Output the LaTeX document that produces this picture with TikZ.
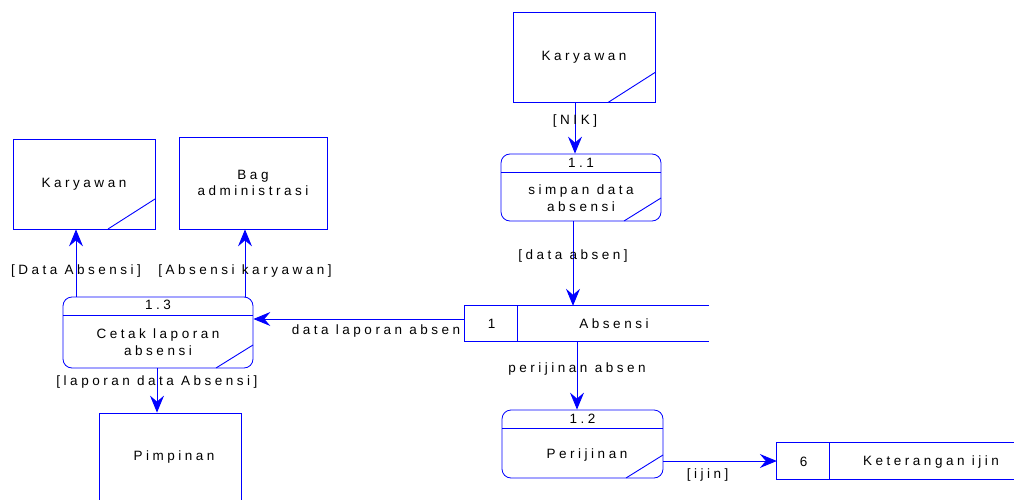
\documentclass[tikz,border=0pt]{standalone}
\usepackage{fontspec}
\setmainfont{Liberation Sans}[LetterSpace=26]
\usetikzlibrary{arrows.meta}

\begin{document}
\begin{tikzpicture}[x=1pt,y=-1pt]

\tikzstyle{every node}=[font=\fontsize{13.5}{16.5}\selectfont, text=black, align=center]
\tikzstyle{entity}=[rectangle, draw=blue, line width=0.8pt, minimum width=142pt, minimum height=90pt, inner sep=0pt]
\tikzstyle{corner}=[path picture={\draw[blue, line width=0.9pt] ([xshift=-47pt]path picture bounding box.south east) -- ([yshift=30pt]path picture bounding box.south east);}]
\tikzstyle{process}=[rectangle, draw=blue, line width=0.8pt, rounded corners=9pt, minimum width=160pt, minimum height=67pt, inner sep=0pt,
  path picture={\draw[blue, line width=0.8pt] ([yshift=-18pt]path picture bounding box.north west) -- ([yshift=-18pt]path picture bounding box.north east);
                \draw[blue, line width=0.9pt] ([xshift=-37pt]path picture bounding box.south east) -- ([yshift=23pt]path picture bounding box.south east);}]
\tikzstyle{store}=[rectangle, minimum height=35pt, inner sep=0pt]
\tikzstyle{storeline}=[draw=blue, line width=0.8pt]

\tikzstyle{flow}=[-{Stealth[length=17pt,width=14pt,inset=6pt]}, draw=blue, line width=0.9pt]

\clip (0,0) rectangle (1014,500);

% external entities
\node[entity, corner] (kar2) at (584,57.5)  {Karyawan};
\node[entity, corner] (kar1) at (84,184)  {Karyawan};
\node[entity, minimum width=148pt, minimum height=92pt] (bag) at (253,183)  {Bag\\administrasi};
\node[entity] (pim) at (170,458)  {};
\node[] (pimtext) at (174,457)  {Pimpinan};

% processes
\node[process] (p11) at (581,187.5)  {};
\node[] (p11no) at (581,163)  {1.1};
\node[] (p11text) at (581,198)  {simpan data\\absensi};

\node[process, minimum width=190pt, minimum height=71pt] (p13) at (158,332.5)  {};
\node[] (p13no) at (158,305)  {1.3};
\node[] (p13text) at (158,342)  {Cetak laporan\\absensi};

\node[process, minimum width=161pt, minimum height=68pt] (p12) at (582.5,444)  {};
\node[] (p12no) at (582.5,419)  {1.2};
\node[] (p12text) at (587,455)  {Perijinan};

% data stores
\node[store, minimum width=244pt] (s1) at (587,323.5)  {};
\draw[storeline] (s1.north east) -- (s1.north west) -- (s1.south west) -- (s1.south east);
\draw[storeline] ([xshift=53pt]s1.north west) -- ([xshift=53pt]s1.south west);
\node[] (s1id) at (491.5,324)  {1};
\node[] (s1name) at (614,324)  {Absensi};

\node[store, minimum width=237pt, minimum height=36pt] (s6) at (895.5,461)  {};
\draw[storeline] (s6.north east) -- (s6.north west) -- (s6.south west) -- (s6.south east);
\draw[storeline] ([xshift=53pt]s6.north west) -- ([xshift=53pt]s6.south west);
\node[] (s6id) at (803.5,462)  {6};
\node[] (s6name) at (931,462)  {Keterangan ijin};

% flows
\draw[flow] ([xshift=-9pt]kar2.south) -- ([xshift=-9pt]kar2.south |- p11.north) node[pos=0.35] {[NIK]};
\draw[flow] ([xshift=-8pt]p11.south) -- ([xshift=-8pt]p11.south |- s1.north) node[pos=0.41] {[data absen]};
\draw[flow] ([yshift=4.5pt]s1.west) -- ([yshift=4.5pt]s1.west -| p13.east) node[pos=0.42, below, yshift=-2pt] {data laporan absen};
\draw[flow] ([xshift=-82pt]p13.north) -- ([xshift=-82pt]p13.north |- kar1.south) node[pos=0.38] {[Data Absensi]};
\draw[flow] ([xshift=87pt]p13.north) -- ([xshift=87pt]p13.north |- bag.south) node[pos=0.38] {[Absensi karyawan]};
\draw[flow] ([xshift=-1pt]p13.south) -- ([xshift=-1pt]p13.south |- pim.north) node[pos=0.31] {[laporan data Absensi]};
\draw[flow] ([xshift=-10pt]s1.south) -- ([xshift=-10pt]s1.south |- p12.north) node[pos=0.40] {perijinan absen};
\draw[flow] ([yshift=-17pt]p12.east) -- ([yshift=-17pt]p12.east -| s6.west) node[pos=0.39, below, yshift=-4pt] {[ijin]};

\end{tikzpicture}
\end{document}
